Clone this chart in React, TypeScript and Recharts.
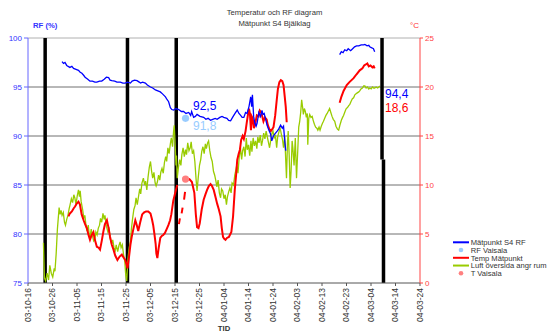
import { ComposedChart, Line, Scatter, XAxis, YAxis, ReferenceLine } from 'recharts'

// day 0 = 03-10-16
const tickDays = [0, 10, 20, 30, 40, 50, 60, 70, 80, 90, 100, 110, 120, 130, 140, 150, 160]
const tickLabels = ['03-10-16', '03-10-26', '03-11-05', '03-11-15', '03-11-25', '03-12-05', '03-12-15', '03-12-25', '04-01-04', '04-01-14', '04-01-24', '04-02-03', '04-02-13', '04-02-23', '04-03-04', '04-03-14', '04-03-24']
const rfTicks = [75, 80, 85, 90, 95, 100]
const tempTicks = [0, 5, 10, 15, 20, 25]
const markerDays = [7.0, 40.6, 60.5]

type Pt = [number, number | null]

const rfMeasured: Pt[] = [
  [13.9, 97.6], [14.5, 97.4], [15.1, 97.5], [15.8, 97.2], [17.1, 97.0], [17.9, 97.1], [18.6, 96.9], [19.6, 96.8], [20.6, 96.7], [21.3, 96.5],
  [22.0, 96.4], [22.7, 96.2], [23.3, 96.0], [24.4, 95.8], [25.3, 95.6], [26.3, 95.6], [27.3, 95.5], [28.1, 95.5], [29.2, 95.6], [30.1, 95.6],
  [31.1, 95.8], [32.0, 96.0], [32.9, 95.95], [33.5, 95.7], [34.2, 95.65], [35.4, 95.6], [36.3, 95.5], [37.7, 95.5], [38.7, 95.4], [39.7, 95.4],
  [40.6, 95.5], [41.8, 95.4], [42.5, 95.6], [43.5, 95.7], [44.5, 95.65], [45.4, 95.5], [45.9, 95.4], [46.8, 95.5], [47.9, 95.4], [48.7, 95.2],
  [50.0, 95.0], [50.9, 94.9], [52.0, 94.7], [53.0, 94.6], [54.0, 94.5], [54.9, 94.3], [56.1, 94.0], [56.8, 93.7], [57.4, 93.5], [58.1, 92.9],
  [58.7, 92.7], [59.5, 92.65], [60.4, 92.8], [61.5, 92.7], [62.6, 92.5], [63.5, 92.5], [64.5, 92.3], [65.6, 92.4], [66.4, 92.1], [66.8, 92.5],
  [67.6, 91.9], [68.3, 92.0], [69.0, 92.2], [70.2, 92.0], [71.7, 91.9], [72.6, 91.7], [73.5, 91.8], [74.5, 91.6], [75.4, 91.7], [76.4, 91.8],
  [77.2, 91.7], [78.3, 91.9], [79.2, 92.0], [79.9, 91.9], [81.2, 91.8], [81.9, 91.6], [82.7, 91.55], [83.5, 91.9], [84.5, 92.3], [85.4, 92.65],
  [86.1, 92.3], [86.8, 92.1], [87.4, 91.9], [88.1, 91.9], [88.8, 92.4], [89.4, 92.3], [90.2, 93.0], [90.9, 94.0], [91.3, 93.0], [91.6, 94.2],
  [92.1, 92.0], [92.6, 91.3], [93.1, 91.0], [93.5, 91.3], [94.2, 92.4], [94.9, 92.0], [95.5, 92.6], [95.9, 92.2], [96.4, 92.3], [96.9, 91.8],
  [97.6, 91.1], [98.3, 90.6], [99.0, 90.2], [99.5, 89.5], [100.0, 89.9], [100.7, 90.2], [101.7, 90.5], [102.3, 90.7], [103.1, 91.1], [103.8, 90.8],
  [104.3, 91.0], [104.8, 89.5], [105.2, 88.5], [105.5, null],
  [127.2, 98.3], [127.9, 98.6], [128.6, 98.5], [129.3, 98.8], [130.1, 98.7], [130.7, 98.9], [131.7, 98.7], [132.5, 98.9], [133.3, 99.1], [134.1, 99.2],
  [135.0, 99.2], [136.0, 99.3], [137.0, 99.3], [137.5, 99.35], [138.4, 99.2], [139.1, 99.25], [139.5, 99.1], [140.3, 99.0], [141.0, 98.9], [141.5, 98.6],
]

const tempMeasured: Pt[] = [
  [16.5, 6.8], [17.1, 7.1], [17.9, 7.3], [18.6, 7.6], [19.2, 7.8], [19.9, 8.1], [20.6, 8.3], [21.2, 8.0], [21.9, 7.0], [22.7, 6.4],
  [23.3, 6.0], [24.0, 5.6], [24.7, 4.9], [25.3, 4.4], [26.0, 4.9], [26.7, 5.2], [27.3, 4.4], [28.1, 3.7], [28.8, 3.6], [29.4, 3.4],
  [30.1, 4.3], [30.8, 5.3], [31.4, 6.0], [32.2, 6.4], [32.9, 5.6], [33.5, 4.7], [34.2, 3.9], [34.9, 3.4], [35.6, 2.8], [36.5, 2.35],
  [37.4, 2.7], [38.3, 2.9], [39.0, 2.6], [39.7, 2.35], [40.2, 1.9], [40.6, 1.5], [41.2, 2.6], [41.8, 3.9], [42.4, 4.8], [43.0, 5.5],
  [43.8, 6.4], [44.3, 6.0], [45.0, 5.3], [45.8, 6.2], [46.6, 7.0], [47.4, 7.2], [48.2, 7.3], [49.1, 7.3], [50.0, 7.1], [50.6, 6.5],
  [51.1, 5.9], [51.6, 5.0], [52.1, 4.0], [52.4, 3.0], [52.8, 2.55], [53.3, 3.5], [54.0, 4.6], [54.6, 4.8], [55.2, 4.9], [55.9, 5.1],
  [56.6, 5.5], [57.3, 5.9], [58.0, 6.4], [58.5, 7.0], [59.3, 8.4], [60.2, 9.3], [60.9, 10.0], [61.2, null], [61.6, 6.0], [62.0, 6.6],
  [62.4, null], [62.7, 7.1], [63.1, 7.7], [63.5, null], [63.7, 8.5], [64.1, 9.3], [64.5, null], [64.9, 10.5], [65.9, 10.6], [66.9, 10.3],
  [67.9, 9.2], [68.5, 7.0], [69.0, 5.7], [69.6, 5.6], [70.1, 6.1], [70.9, 7.5], [71.7, 8.5], [72.5, 9.1], [73.1, 9.5], [73.8, 9.9],
  [74.5, 10.1], [75.1, 9.9], [75.8, 9.5], [76.5, 8.8], [77.2, 8.1], [77.9, 7.5], [78.6, 6.8], [79.1, 5.6], [79.6, 4.7], [80.1, 4.5],
  [80.6, 4.4], [81.2, 4.6], [82.0, 4.7], [82.6, 5.0], [83.0, 5.2], [83.7, 6.8], [84.4, 9.5], [85.0, 11.2], [85.4, 12.55], [86.0, 13.2],
  [86.5, 13.6], [87.0, 14.6], [87.6, 15.0], [88.1, 14.7], [88.8, 15.5], [89.3, 16.4], [89.8, 17.2], [90.2, 17.8], [90.6, 17.2], [91.0, 15.6],
  [91.3, 17.0], [91.7, 16.8], [92.2, 15.8], [92.7, 16.2], [93.4, 17.1], [94.1, 17.0], [94.6, 17.6], [95.2, 17.4], [95.7, 16.9], [96.1, 16.5],
  [96.7, 16.9], [97.4, 16.7], [97.9, 16.1], [98.5, 15.7], [99.1, 15.5], [99.7, 15.7], [100.2, 15.9], [100.9, 17.1], [101.5, 18.6], [102.0, 19.8],
  [102.6, 20.5], [103.2, 20.7], [103.8, 20.6], [104.3, 20.2], [104.8, 19.0], [105.2, 18.0], [105.6, 16.4], [105.9, null],
  [127.2, 18.4], [127.9, 19.0], [128.8, 19.6], [130.1, 20.2], [131.2, 20.5], [132.9, 20.9], [134.1, 21.3], [135.4, 21.7], [136.5, 21.9], [137.2, 22.2],
  [137.9, 22.3], [138.5, 22.4], [139.1, 22.1], [139.8, 22.2], [140.6, 22.0], [141.1, 22.1], [141.5, 21.9],
]

const airAbove: Pt[] = [
  [6.3, 4.1], [6.7, 0.5], [7.2, 0.2], [7.8, 1.0], [8.4, 0.3], [8.9, 1.8], [9.5, 1.0], [10.1, 0.6], [10.7, 1.5], [11.0, 1.2],
  [11.5, 3.0], [12.0, 5.5], [12.7, 7.7], [13.1, 7.0], [13.5, 7.4], [13.9, 6.9], [14.4, 7.2], [14.9, 6.2], [15.3, 5.9], [15.8, 6.5],
  [16.3, 6.9], [16.8, 7.6], [17.1, 7.9], [17.7, 8.6], [18.2, 8.2], [18.7, 9.0], [19.1, 8.7], [19.6, 8.0], [20.1, 8.9], [20.6, 9.5],
  [21.0, 8.8], [21.3, 9.4], [21.7, 8.3], [22.3, 7.5], [22.8, 6.6], [23.2, 6.9], [23.7, 5.8], [24.1, 5.3], [24.6, 5.9], [25.0, 4.9],
  [25.3, 4.6], [25.8, 5.5], [26.3, 4.8], [26.8, 4.3], [27.3, 4.5], [27.7, 5.2], [28.2, 4.9], [28.7, 5.6], [29.2, 5.9], [29.6, 6.6],
  [30.1, 6.2], [30.6, 7.1], [31.1, 6.5], [31.4, 6.9], [32.0, 5.8], [32.6, 5.2], [33.1, 5.5], [33.5, 4.6], [34.1, 4.0], [34.6, 4.4],
  [35.1, 3.6], [35.6, 3.3], [36.0, 3.9], [36.6, 3.2], [37.1, 3.8], [37.6, 4.2], [38.0, 3.6], [38.5, 3.9], [39.0, 2.9], [39.5, 2.2],
  [39.9, 0.8], [40.3, 0.2], [40.8, 2.5], [41.3, 3.6], [41.8, 4.2], [42.2, 5.5], [42.7, 6.6], [43.2, 7.5], [43.7, 7.9], [44.1, 8.7],
  [44.6, 8.0], [45.1, 8.8], [45.6, 9.6], [46.0, 9.1], [46.5, 10.2], [47.1, 10.7], [47.6, 10.0], [48.0, 10.4], [48.5, 9.5], [49.0, 10.8],
  [49.5, 11.8], [50.0, 12.4], [50.4, 11.5], [50.9, 10.7], [51.4, 11.3], [51.9, 10.2], [52.3, 9.9], [52.8, 10.3], [53.3, 11.0], [53.8, 10.5],
  [54.2, 11.3], [54.7, 11.7], [55.2, 11.2], [55.7, 12.3], [56.2, 12.9], [56.6, 12.4], [57.1, 13.8], [57.6, 13.2], [58.1, 14.2], [58.5, 14.8],
  [59.0, 13.9], [59.4, 15.4], [59.7, 16.1], [60.0, 14.5], [60.4, 12.0], [60.6, 13.0], [60.9, 10.7], [61.4, 11.8], [61.9, 12.6], [62.4, 12.0],
  [62.8, 13.1], [63.3, 13.8], [63.8, 12.9], [64.3, 13.6], [64.7, 13.1], [65.2, 14.3], [65.7, 13.5], [66.2, 13.8], [66.6, 14.4], [67.1, 13.2],
  [67.6, 13.5], [68.1, 12.4], [68.6, 10.6], [69.0, 9.4], [69.5, 10.8], [70.0, 12.0], [70.5, 12.6], [70.9, 13.4], [71.4, 13.9], [71.9, 13.2],
  [72.4, 14.2], [72.8, 13.7], [73.3, 14.3], [73.7, 14.5], [74.2, 13.5], [74.7, 12.8], [75.2, 12.4], [75.7, 11.4], [76.2, 11.0], [76.7, 10.4],
  [77.1, 9.8], [77.6, 10.5], [78.1, 9.2], [78.6, 8.7], [79.0, 9.6], [79.5, 9.4], [80.0, 8.6], [80.5, 9.0], [81.0, 8.0], [81.4, 8.8],
  [81.9, 9.3], [82.4, 9.7], [82.9, 9.2], [83.3, 10.2], [83.9, 10.0], [84.4, 11.0], [84.9, 11.6], [85.2, 12.0], [85.7, 11.2], [86.2, 12.8],
  [86.7, 13.8], [87.2, 12.6], [87.6, 13.5], [88.1, 13.9], [88.6, 12.9], [89.1, 14.8], [89.5, 13.6], [90.0, 14.1], [90.5, 13.0], [91.0, 14.5],
  [91.4, 13.4], [91.9, 14.8], [92.4, 14.0], [92.9, 14.5], [93.4, 13.7], [93.8, 14.9], [94.3, 14.3], [94.8, 15.1], [95.3, 14.0], [95.7, 14.5],
  [96.2, 15.3], [96.7, 14.7], [97.2, 15.5], [97.6, 15.0], [98.1, 14.4], [98.6, 13.8], [99.1, 14.6], [99.6, 15.3], [100.0, 15.5], [100.5, 14.8],
  [101.0, 15.0], [101.5, 13.8], [101.9, 14.9], [102.4, 15.4], [102.9, 15.8], [103.4, 15.2], [103.9, 14.6], [104.3, 13.8], [104.8, 15.0], [105.2, 12.5],
  [105.5, 10.7], [105.9, 14.2], [106.2, 15.5], [106.6, 13.1], [107.0, 9.7], [107.4, 11.5], [107.8, 14.5], [108.1, 13.8], [108.6, 12.0], [109.1, 14.8],
  [109.6, 10.7], [110.1, 13.5], [110.5, 15.9], [110.9, 16.5], [111.3, 17.4], [111.7, 18.7], [112.1, 17.9], [112.4, 17.2], [112.8, 17.8], [113.2, 17.5],
  [113.6, 16.9], [114.0, 17.3], [114.2, 14.1], [114.6, 16.8], [115.0, 17.2], [115.5, 16.9], [116.0, 17.0], [116.4, 16.6], [116.9, 16.2], [117.4, 15.9],
  [117.9, 15.8], [118.3, 15.6], [118.8, 15.9], [119.2, 15.6], [119.7, 16.0], [120.2, 16.3], [120.6, 16.5], [121.1, 16.8], [121.6, 17.1], [122.1, 17.3],
  [122.5, 17.5], [123.1, 17.8], [123.6, 17.4], [124.1, 17.0], [124.6, 16.7], [125.2, 16.5], [125.7, 16.0], [126.3, 15.7], [126.8, 15.6], [127.3, 16.1],
  [127.9, 16.6], [128.4, 16.9], [128.8, 17.1], [129.4, 17.5], [129.9, 17.8], [130.4, 17.9], [130.9, 18.1], [131.3, 18.2], [131.8, 18.5], [132.4, 18.8],
  [132.9, 18.9], [133.4, 19.2], [133.9, 19.3], [134.4, 19.4], [135.0, 19.5], [135.4, 19.6], [135.9, 19.8], [136.5, 19.9], [137.0, 20.1], [137.5, 20.1],
  [138.0, 19.9], [138.5, 20.0], [139.1, 19.8], [139.5, 19.9], [140.1, 19.8], [140.6, 20.0], [141.1, 19.9], [141.5, 19.9], [142.1, 20.0], [142.7, 19.9],
  [143.2, 20.0], [143.6, 20.1],
]

const rfVaisala: Pt[] = [[64.3, 91.8]]
const tVaisala: Pt[] = [[64.3, 10.6]]

const toRows = (pts: Pt[]) => pts.map(([d, v]) => ({ d, v }))

const FONT = '"Liberation Sans", Arial, sans-serif'

const legendItems = [
  { name: 'Mätpunkt S4 RF', color: '#0000ff', kind: 'line' },
  { name: 'RF Vaisala', color: '#99ccff', kind: 'dot' },
  { name: 'Temp Mätpunkt', color: '#ff0000', kind: 'line' },
  { name: 'Luft översida angr rum', color: '#99cc00', kind: 'line' },
  { name: 'T Vaisala', color: '#ff8080', kind: 'dot' },
]

function DateTick({ x, y, payload }: any) {
  const label = tickLabels[tickDays.indexOf(payload.value)] ?? ''
  return (
    <text transform={`translate(${x},${y}) rotate(-90)`} textAnchor="end" dy="0.33em" fontSize={8.5} fill="#333" fontFamily={FONT}>
      {label}
    </text>
  )
}

export default function App() {
  return (
    <div style={{ position: 'absolute', left: 0, top: 0, width: 547, height: 334, background: '#fff' }}>
      <ComposedChart width={547} height={334} margin={{ top: 38, right: 97, bottom: 0, left: 0 }}>
        <XAxis
          dataKey="d"
          type="number"
          domain={[0, 160]}
          ticks={tickDays}
          allowDuplicatedCategory={false}
          height={51}
          tickSize={3}
          stroke="#555"
          tick={<DateTick />}
          interval={0}
        />
        <YAxis
          yAxisId="rf"
          domain={[75, 100]}
          ticks={rfTicks}
          width={28}
          tickSize={4}
          stroke="#6666ff"
          tick={{ fill: '#3333ff', fontSize: 8, fontFamily: FONT }}
          interval={0}
        />
        <YAxis
          yAxisId="t"
          orientation="right"
          domain={[0, 25]}
          ticks={tempTicks}
          width={30}
          tickSize={3}
          stroke="#ff4444"
          tick={{ fill: '#ff4444', fontSize: 8, fontFamily: FONT }}
          interval={0}
        />
        {rfTicks.slice(1).map((v) => (
          <ReferenceLine key={v} yAxisId="rf" y={v} stroke={v === 100 ? '#b0b0b0' : '#707070'} strokeWidth={1} />
        ))}
        {markerDays.map((d) => (
          <ReferenceLine key={d} yAxisId="rf" x={d} stroke="#000" strokeWidth={3.5} />
        ))}
        <ReferenceLine yAxisId="rf" segment={[{ x: 144.5, y: 100 }, { x: 144.5, y: 87.6 }]} stroke="#000" strokeWidth={3.5} />
        <ReferenceLine yAxisId="rf" segment={[{ x: 145.1, y: 87.6 }, { x: 145.1, y: 75 }]} stroke="#000" strokeWidth={3.5} />
        <Line yAxisId="t" data={toRows(airAbove)} dataKey="v" stroke="#99cc00" strokeWidth={1.3} dot={false} isAnimationActive={false} connectNulls={false} />
        <Line yAxisId="t" data={toRows(tempMeasured)} dataKey="v" stroke="#ff0000" strokeWidth={2} dot={false} isAnimationActive={false} connectNulls={false} />
        <Line yAxisId="rf" data={toRows(rfMeasured)} dataKey="v" stroke="#0000ff" strokeWidth={1.3} dot={false} isAnimationActive={false} connectNulls={false} />
        <Scatter yAxisId="rf" data={toRows(rfVaisala)} dataKey="v" fill="#99ccff" isAnimationActive={false}
          shape={(p: any) => <circle cx={p.cx} cy={p.cy} r={3.6} fill="#99ccff" />} />
        <Scatter yAxisId="t" data={toRows(tVaisala)} dataKey="v" fill="#ff8080" isAnimationActive={false}
          shape={(p: any) => <circle cx={p.cx} cy={p.cy} r={3.6} fill="#ff8080" />} />
      </ComposedChart>

      <svg width={547} height={334} style={{ position: 'absolute', left: 0, top: 0, pointerEvents: 'none' }} fontFamily={FONT}>
        <text x={274.5} y={15} textAnchor="middle" fontSize={7.7} fill="#333">Temperatur och RF diagram</text>
        <text x={274.5} y={26} textAnchor="middle" fontSize={7.7} fill="#333">Mätpunkt S4 Bjälklag</text>
        <text x={33} y={27.5} fontSize={7.7} fontWeight="bold" fill="#3333ff">RF (%)</text>
        <text x={410} y={28} fontSize={8} fill="#ff3333">°C</text>
        <text x={224} y={331} textAnchor="middle" fontSize={7.7} fontWeight="bold" fill="#333">TID</text>
        <text x={193} y={110} fontSize={12} fill="#0000ff">92,5</text>
        <text x={193} y={130} fontSize={12} fill="#99ccff">91,8</text>
        <text x={385} y={98} fontSize={12} fill="#0000ff">94,4</text>
        <text x={385} y={112} fontSize={12} fill="#ff0000">18,6</text>
        {legendItems.map((it, i) => {
          const cy = 242.3 + i * 7.75
          return (
            <g key={it.name}>
              {it.kind === 'line' ? (
                <line x1={453} x2={469} y1={cy} y2={cy} stroke={it.color} strokeWidth={2} />
              ) : (
                <circle cx={461} cy={cy} r={2.3} fill={it.color} />
              )}
              <text x={470.7} y={cy + 2.8} fontSize={7.6} fill="#333">{it.name}</text>
            </g>
          )
        })}
      </svg>
    </div>
  )
}
